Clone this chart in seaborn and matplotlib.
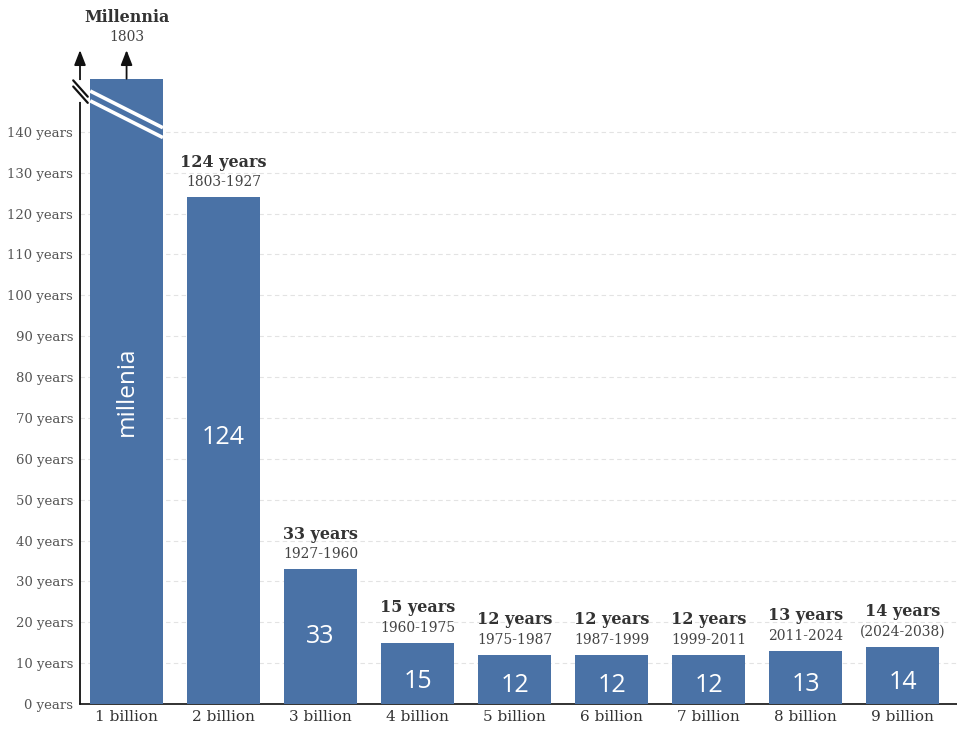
import seaborn as sns
import numpy as np
import matplotlib.pyplot as plt
import pandas as pd

# data
categories = ["1 billion", "2 billion", "3 billion", "4 billion", "5 billion",
              "6 billion", "7 billion", "8 billion", "9 billion"]
years = [None, 124, 33, 15, 12, 12, 12, 13, 14]
headline = ["Millennia", "124 years", "33 years", "15 years", "12 years",
            "12 years", "12 years", "13 years", "14 years"]
periods = ["1803", "1803-1927", "1927-1960", "1960-1975", "1975-1987",
           "1987-1999", "1999-2011", "2011-2024", "(2024-2038)"]
inner = ["millenia", "124", "33", "15", "12", "12", "12", "13", "14"]
yticks = list(range(0, 150, 10))
ytick_labels = [str(t) + " years" for t in yticks]

BREAK_HEIGHT = 153   # drawn height of the "millennia" bar (axis is broken)
BAR_COLOR = "#4a72a6"
SERIF = "DejaVu Serif"
SANS = "Open Sans"

heights = [BREAK_HEIGHT if v is None else v for v in years]
df = pd.DataFrame({"pop": categories, "height": heights})

def inner_y(h):
    # numbers sit a bit low in the short bars, a bit high in the tall one
    if h < 30:
        return h * 0.37
    if h > 100:
        return h * 0.525
    return h * 0.5

sns.set_style("white")
plt.rcParams['font.family'] = [SERIF]

fig = plt.figure(figsize=(9.57, 7.33), dpi=100)
ax = fig.add_axes([0.0836, 0.0396, 0.9164, 0.892])

sns.barplot(data=df, x="pop", y="height", color=BAR_COLOR, saturation=1,
            width=0.75, linewidth=0, ax=ax, zorder=3)

ax.set_xlim(-0.48, 8.56)
ax.set_ylim(0, 160)
ax.set_yticks(yticks)
ax.set_yticklabels(ytick_labels, fontsize=9.5, color="#555555")
ax.tick_params(axis="y", length=0, pad=5)
ax.tick_params(axis="x", length=0, pad=4, labelsize=11, labelcolor="#333333")
ax.set_xlabel("")
ax.set_ylabel("")

# dashed gridlines
for t in yticks[1:]:
    ax.axhline(t, color="#e3e3e3", lw=0.8, ls=(0, (4, 3)), zorder=1)

for s in ["top", "right", "left"]:
    ax.spines[s].set_visible(False)
ax.spines["bottom"].set_color("#222222")
ax.spines["bottom"].set_linewidth(1.3)

arrow = dict(arrowstyle="-|>,head_length=0.9,head_width=0.35",
             color="#111111", lw=1.3, shrinkA=0, shrinkB=0)
# y axis with arrow
ax.annotate("", xy=(-0.48, 160), xytext=(-0.48, 0), arrowprops=arrow,
            annotation_clip=False)
# arrow on top of the first bar
ax.annotate("", xy=(0, 160), xytext=(0, BREAK_HEIGHT), arrowprops=arrow,
            annotation_clip=False)

# break marks on the axis
ax.plot([-0.48, -0.48], [147.8, 152.2], color="white", lw=3, zorder=5,
        clip_on=False)
for dy in (0, 1.5):
    ax.plot([-0.55, -0.40], [152.6 - dy, 148.6 - dy], color="#111111",
            lw=1.6, clip_on=False, zorder=6)
# white break across the first bar
for dy in (0, 2.4):
    ax.plot([-0.375, 0.375], [150.0 - dy, 141.0 - dy], color="white",
            lw=2.6, zorder=5, solid_capstyle="butt")

# labels above bars and inside bars
for i, h in enumerate(heights):
    top = 159.5 if years[i] is None else h
    ax.text(i, top + 2.0, periods[i], ha="center", va="bottom",
            fontsize=10, color="#444444")
    ax.text(i, top + 6.5, headline[i], ha="center", va="bottom",
            fontsize=11.5, fontweight="bold", color="#333333")
    if years[i] is None:
        ax.text(i, 76.5, inner[i], ha="center", va="center", rotation=90,
                fontsize=17.5, color="white", family=SANS, zorder=6)
    else:
        ax.text(i, inner_y(h), inner[i], ha="center", va="center",
                fontsize=18, color="white", family=SANS, zorder=6)

fig.savefig("out.png", dpi=100)
